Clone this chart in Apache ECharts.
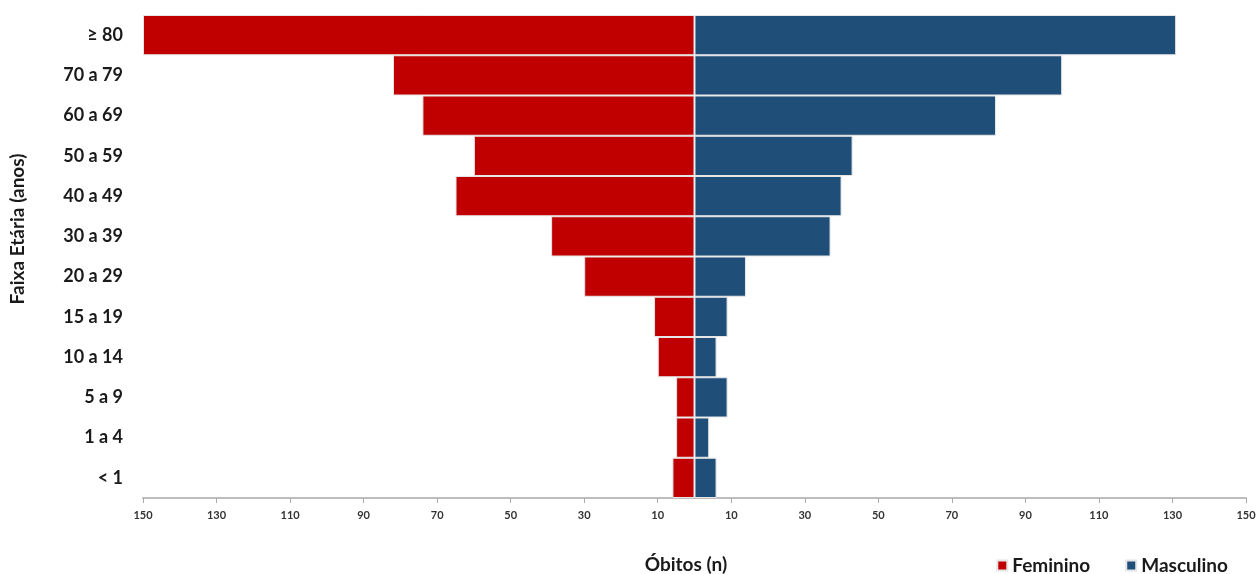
<!DOCTYPE html>
<html>
<head>
<meta charset="utf-8">
<script src="https://cdn.jsdelivr.net/npm/echarts@6/dist/echarts.min.js"></script>
<style>html,body{margin:0;padding:0;background:#fff}#c{width:1259px;height:574px}</style>
</head>
<body>
<div id="c"></div>
<script>
const categories = ['< 1','1 a 4','5 a 9','10 a 14','15 a 19','20 a 29','30 a 39','40 a 49','50 a 59','60 a 69','70 a 79','≥ 80'];
const feminino = [6,5,5,10,11,30,39,65,60,74,82,150];
const masculino = [6,4,9,6,9,14,37,40,43,82,100,131];
const tickValues = [-150,-130,-110,-90,-70,-50,-30,-10,10,30,50,70,90,110,130,150];

const FONT = 'Lato, "Open Sans", sans-serif';
const chart = echarts.init(document.getElementById('c'), null, {renderer:'canvas'});
chart.setOption({
  animation:false,
  backgroundColor:'#fff',
  grid:{left:143, right:13, top:15, bottom:76, containLabel:false, outerBoundsMode:'none'},
  legend:{
    data:['Feminino','Masculino'],
    right:26, top:551,
    icon:'rect', itemWidth:10, itemHeight:10, itemGap:35,
    textStyle:{fontFamily:FONT, fontWeight:'bold', fontSize:19, color:'#1a1a1a'}
  },
  xAxis:{
    type:'value', min:-150, max:150,
    name:'Óbitos (n)', nameLocation:'middle', nameGap:57,
    nameTextStyle:{fontFamily:FONT, fontWeight:'bold', fontSize:19, color:'#1a1a1a', padding:[0,17,0,0]},
    axisLine:{show:true, lineStyle:{color:'#bdbdbd', width:2}},
    axisTick:{show:true, customValues:tickValues, length:5, lineStyle:{color:'#aaa'}},
    axisLabel:{customValues:tickValues, formatter:v=>Math.abs(v), fontFamily:FONT, fontWeight:'bold', fontSize:11, color:'#333', margin:12},
    splitLine:{show:false}
  },
  yAxis:{
    type:'category', data:categories,
    axisLine:{show:false}, axisTick:{show:false},
    axisLabel:{fontFamily:FONT, fontWeight:'bold', fontSize:18, color:'#1a1a1a', margin:20}
  },
  graphic:[{
    type:'text', x:18, y:229, rotation:Math.PI/2,
    style:{text:'Faixa Etária (anos)', fontFamily:FONT, fontWeight:'bold', fontSize:19, fill:'#1a1a1a', align:'center', verticalAlign:'middle'}
  }],
  series:[
    {name:'Feminino', type:'bar', data:feminino.map(v=>-v), barGap:'-100%', barCategoryGap:'0%',
     itemStyle:{color:'#C00000', borderColor:'#e6e6e6', borderWidth:1}},
    {name:'Masculino', type:'bar', data:masculino, barGap:'-100%', barCategoryGap:'0%',
     itemStyle:{color:'#1F4E79', borderColor:'#e6e6e6', borderWidth:1}}
  ]
});
</script>
</body>
</html>
